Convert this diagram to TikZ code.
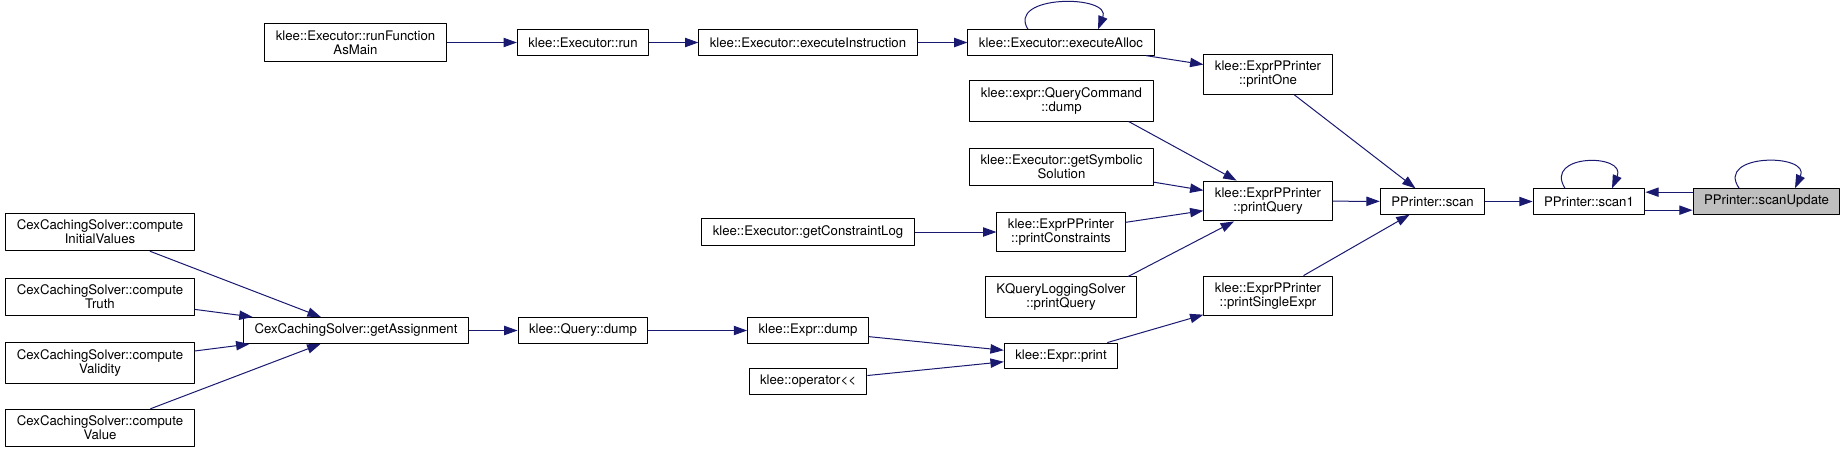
\documentclass[tikz,border=0pt]{standalone}
\usepackage{fontspec}
\setmainfont{TeX Gyre Heros}
\usetikzlibrary{arrows.meta,calc}
\definecolor{edgeblue}{HTML}{191970}
\definecolor{rootgray}{HTML}{BFBFBF}
\tikzset{
  fn/.style={draw=black,fill=white,line width=0.75pt,align=center,inner xsep=8.25pt,inner ysep=5pt,minimum height=19pt,font=\fontsize{9.9}{10.5}\selectfont},
  root/.style={fn,fill=rootgray},
  call/.style={->,draw=edgeblue,line width=0.75pt}
}
\begin{document}
\begin{tikzpicture}[x=0.75pt,y=-0.75pt,>={Triangle[length=10pt,width=7pt]},line join=round]
	\useasboundingbox (0,0) rectangle (1845,454);
	\node[fn] (runmain) at (355.5,42.5) {klee::Executor::runFunction\\AsMain};
	\node[fn] (run) at (583,42.5) {klee::Executor::run};
	\node[fn] (execinst) at (808,42.5) {klee::Executor::executeInstruction};
	\node[fn] (ealloc) at (1061,42.5) {klee::Executor::executeAlloc};
	\node[fn] (printone) at (1268,74.5) {klee::ExprPPrinter\\::printOne};
	\node[fn] (qcdump) at (1061.5,101) {klee::expr::QueryCommand\\::dump};
	\node[fn] (getsym) at (1061.5,167) {klee::Executor::getSymbolic\\Solution};
	\node[fn] (pquery) at (1268,201) {klee::ExprPPrinter\\::printQuery};
	\node[fn] (getlog) at (808,232) {klee::Executor::getConstraintLog};
	\node[fn] (pconstr) at (1061,232) {klee::ExprPPrinter\\::printConstraints};
	\node[fn] (kqlog) at (1061,297) {KQueryLoggingSolver\\::printQuery};
	\node[fn] (psingle) at (1268,296) {klee::ExprPPrinter\\::printSingleExpr};
	\node[fn] (pscan) at (1432.5,201.5) {PPrinter::scan};
	\node[fn] (pscanone) at (1589,201.5) {PPrinter::scan1};
	\node[root] (pscanupd) at (1766.5,201.5) {PPrinter::scanUpdate};
	\node[fn] (civ) at (100,232) {CexCachingSolver::compute\\InitialValues};
	\node[fn] (ctruth) at (100,297) {CexCachingSolver::compute\\Truth};
	\node[fn] (cvalid) at (100,363) {CexCachingSolver::compute\\Validity};
	\node[fn] (cvalue) at (100,428) {CexCachingSolver::compute\\Value};
	\node[fn] (getassign) at (356,330.5) {CexCachingSolver::getAssignment};
	\node[fn] (qdump) at (583,330.5) {klee::Query::dump};
	\node[fn] (edump) at (808,330.5) {klee::Expr::dump};
	\node[fn] (eprint) at (1061,356) {klee::Expr::print};
	\node[fn] (oplt) at (808,381.5) {klee::operator\mbox{<}\mbox{<}};
	\draw[call] (runmain) -- (run);
	\draw[call] (run) -- (execinst);
	\draw[call] (execinst) -- (ealloc);
	\draw[call] ($(ealloc.north)+(-33,0)$) .. controls +(-22,-35) and +(14,-35) .. ($(ealloc.north)+(37,0)$);
	\draw[call] (ealloc) -- (printone);
	\draw[call] (printone) -- (pscan);
	\draw[call] (qcdump.-17) -- (pquery.147);
	\draw[call] (getsym) -- (pquery);
	\draw[call] (pconstr) -- (pquery);
	\draw[call] (kqlog.17.6) -- (pquery.211);
	\draw[call] (getlog) -- (pconstr);
	\draw[call] (pquery) -- (pscan);
	\draw[call] (psingle) -- (pscan);
	\draw[call] (eprint) -- (psingle);
	\draw[call] (edump) -- (eprint);
	\draw[call] (oplt) -- (eprint);
	\draw[call] (qdump) -- (edump);
	\draw[call] (getassign) -- (qdump);
	\draw[call] (civ) -- (getassign);
	\draw[call] (ctruth) -- (getassign);
	\draw[call] (cvalid) -- (getassign);
	\draw[call] (cvalue) -- (getassign);
	\draw[call] (pscan) -- (pscanone);
	\draw[call] ($(pscanone.north)+(-24,0)$) .. controls +(-22,-35) and +(15,-35) .. ($(pscanone.north)+(23,0)$);
	\draw[call] ([yshift=-6.5pt]pscanone.east) -- ([yshift=-6.5pt]pscanupd.west);
	\draw[call] ([yshift=7pt]pscanupd.west) -- ([yshift=7pt]pscanone.east);
	\draw[call] ($(pscanupd.north)+(-27.5,0)$) .. controls +(-24,-35) and +(16,-35) .. ($(pscanupd.north)+(28.5,0)$);
\end{tikzpicture}
\end{document}
